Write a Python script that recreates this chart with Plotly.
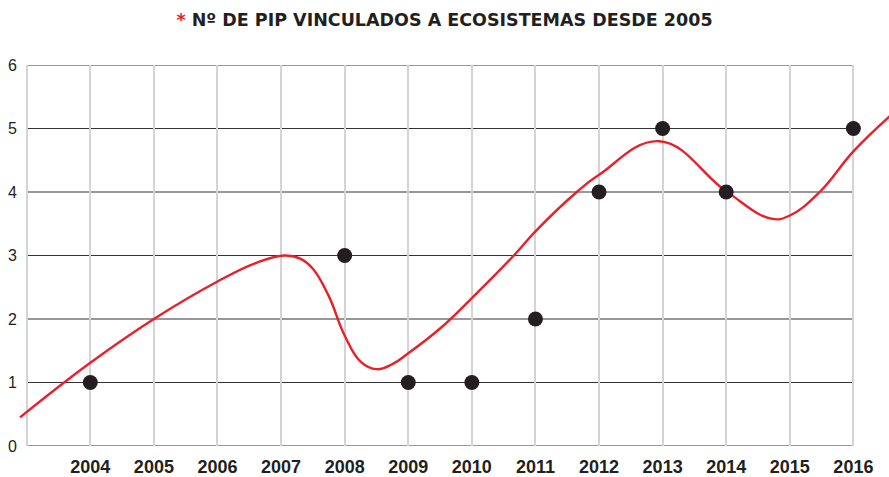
import plotly.graph_objects as go

# Observed data points
years = [2004, 2008, 2009, 2010, 2011, 2012, 2013, 2014, 2016]
values = [1, 3, 1, 1, 2, 4, 5, 4, 5]

# Smoothed trend curve
curve_x = [2002.895, 2004, 2005, 2006, 2006.6, 2007.05, 2007.3, 2007.5, 2007.75, 2008, 2008.25,
           2008.5, 2008.75, 2009, 2009.5, 2010, 2010.66, 2011, 2011.65, 2012, 2012.95, 2014,
           2014.71, 2015, 2015.47, 2016, 2016.6]
curve_y = [0.45, 1.31, 2.0, 2.59, 2.88, 3.0, 2.95, 2.79, 2.36, 1.74, 1.33,
           1.21, 1.29, 1.46, 1.85, 2.33, 3.0, 3.38, 4.0, 4.27, 4.80, 4.01,
           3.58, 3.63, 4.0, 4.64, 5.22]

tick_years = list(range(2003, 2017))
tick_labels = [""] + [str(y) for y in range(2004, 2017)]
y_ticks = [0, 1, 2, 3, 4, 5, 6]

title_text = "Nº DE PIP VINCULADOS A ECOSISTEMAS DESDE 2005"

fig = go.Figure()

fig.add_trace(go.Scatter(
    x=curve_x, y=curve_y, mode="lines",
    line=dict(color="#e8202a", width=2.4, shape="spline", smoothing=1.2),
    hoverinfo="skip", showlegend=False, cliponaxis=False,
))
fig.add_trace(go.Scatter(
    x=years, y=values, mode="markers",
    marker=dict(color="#231f20", size=15),
    showlegend=False, cliponaxis=False,
))

# horizontal grid lines limited to 2003..2016
for v in y_ticks:
    fig.add_shape(type="line", x0=tick_years[0], x1=tick_years[-1], y0=v, y1=v,
                  xref="x", yref="y", layer="below",
                  line=dict(color="#333333", width=1.1))

fig.update_layout(
    width=889, height=477,
    margin=dict(l=18, r=0, t=65, b=31, autoexpand=False),
    paper_bgcolor="white", plot_bgcolor="white",
    font=dict(family="Liberation Sans, Arial, sans-serif", color="#231f20"),
    title=dict(
        text="<span style='color:#e8202a'>*</span> " + title_text,
        x=0.5, xref="container", xanchor="center",
        y=1 - 20 / 477, yref="container", yanchor="middle",
        font=dict(size=17.5, family="DejaVu Sans, Liberation Sans, sans-serif", color="#231f20", weight="bold"),
    ),
    xaxis=dict(
        range=[2002.863, 2016.56],
        tickmode="array", tickvals=tick_years, ticktext=tick_labels,
        showgrid=True, gridcolor="#d4d4d4", gridwidth=1.5,
        zeroline=False, showline=False, automargin=False,
        ticks="outside", ticklen=4, tickcolor="rgba(0,0,0,0)",
        tickfont=dict(size=18, weight="bold", color="#231f20"),
    ),
    yaxis=dict(
        range=[0, 6],
        tickmode="array", tickvals=y_ticks,
        showgrid=False, zeroline=False, showline=False, automargin=False,
        ticks="",
        tickfont=dict(size=16, color="#231f20"),
    ),
)

fig.write_html("out.html", post_script="document.body.style.margin='0';",
               config={"displayModeBar": False})
